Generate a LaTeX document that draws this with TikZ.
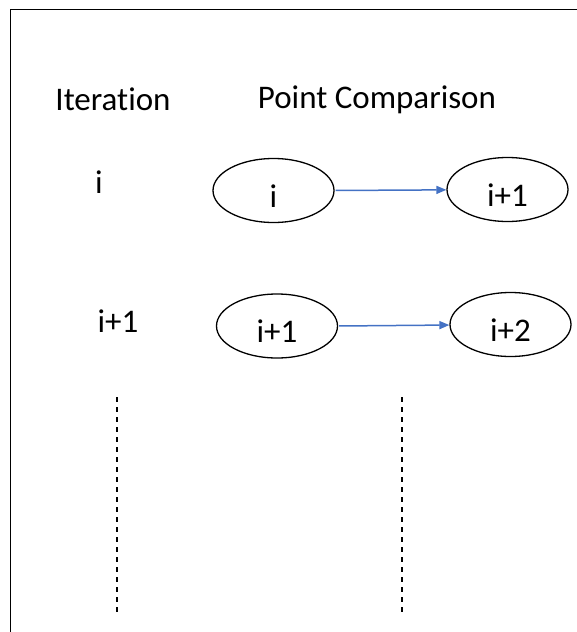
\documentclass[tikz,border=0pt]{standalone}
\usepackage{fontspec}
\setmainfont{Carlito}[Ligatures={NoCommon}]
\usetikzlibrary{arrows.meta,shapes.geometric}
\definecolor{linkblue}{RGB}{68,114,196}

\begin{document}
\begin{tikzpicture}[x=1pt,y=-1pt,font=\fontsize{33}{40}\selectfont,
    >={Triangle[length=10pt,width=8pt]}]
  \tikzstyle{point}=[ellipse,draw,line width=1.3pt,minimum width=121pt,minimum height=64pt,
    inner sep=0pt,text height=33pt,text depth=0pt]
  \tikzstyle{compare}=[->,draw=linkblue,line width=1.5pt,shorten <=1pt]
  \tikzstyle{more}=[line width=1.3pt,dash pattern=on 4.5pt off 5.5pt]

  \useasboundingbox (0,0) rectangle (577,632);
  \draw[line width=1.5pt] (10.5,632) -- (10.5,9.5) -- (577,9.5);

  % column heads
  \node[anchor=base] (iter) at (113,110) {Iteration};
  \node[anchor=base] (comp) at (377,108) {Point Comparison};

  % iteration numbers
  \node[anchor=base] (it1) at (99,193) {i};
  \node[anchor=base] (it2) at (118,332) {i+1};

  % compared points
  \node[point] (p1) at (273.5,190.5) {i};
  \node[point] (q1) at (507.5,189.5) {i+1};
  \node[point] (p2) at (277,326) {i+1};
  \node[point] (q2) at (510.5,324.5) {i+2};

  \draw[compare] (p1.east) -- (q1);
  \draw[compare] (p2.east) -- (q2);

  % and so on
  \coordinate (a1) at (117,397);
  \coordinate (a2) at (117,612);
  \coordinate (b1) at (402,397);
  \coordinate (b2) at (402,612);
  \draw[more] (a1) -- (a2);
  \draw[more] (b1) -- (b2);
\end{tikzpicture}
\end{document}
